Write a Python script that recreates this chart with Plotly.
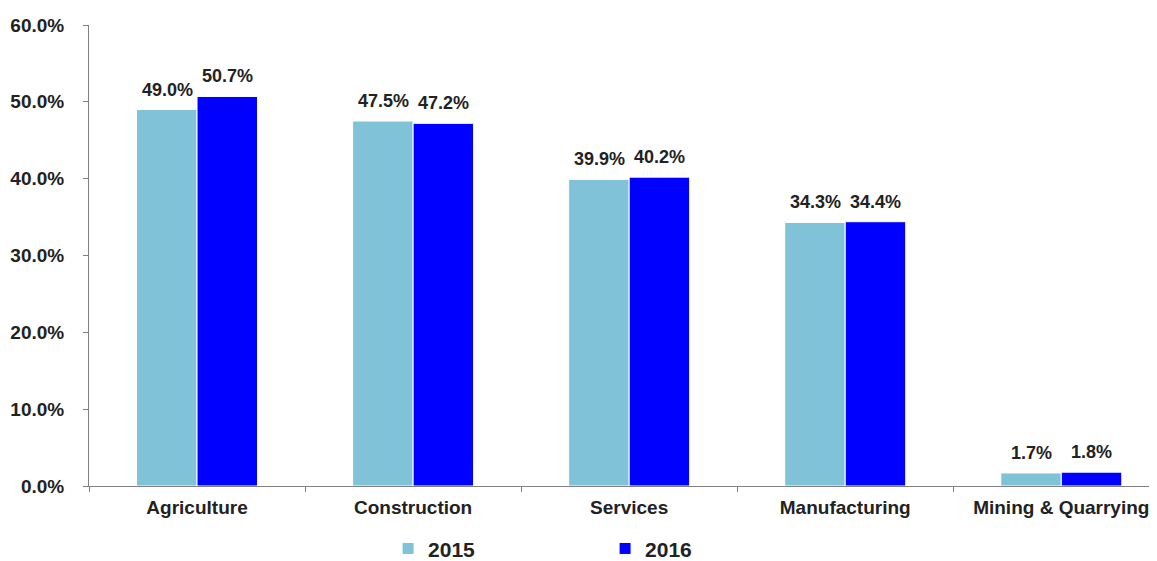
import plotly.graph_objects as go

categories = ["Agriculture", "Construction", "Services", "Manufacturing", "Mining & Quarrying"]
values_2015 = [49.0, 47.5, 39.9, 34.3, 1.7]
values_2016 = [50.7, 47.2, 40.2, 34.4, 1.8]
series_names = ["2015", "2016"]
y_ticks = [0, 10, 20, 30, 40, 50, 60]

FONT = "Liberation Sans, Arial, sans-serif"
TXT = "#222222"

fig = go.Figure()
series = [(series_names[0], values_2015, "#80C2D8", -30),
          (series_names[1], values_2016, "#0000FF", 30)]
for name, vals, color, shift in series:
    fig.add_trace(go.Bar(
        name=name, x=categories, y=vals,
        marker=dict(color=color, line=dict(color="white", width=1)),
        hoverinfo="x+y",
    ))
    for cat, v in zip(categories, vals):
        fig.add_annotation(x=cat, y=v, text=f"{v:.1f}%", showarrow=False,
                           xshift=shift, yshift=8, yanchor="bottom",
                           font=dict(family=FONT, size=18, color=TXT, weight="bold"))

fig.update_layout(
    width=1157, height=561,
    barmode="group", bargap=0.44, bargroupgap=0,
    plot_bgcolor="white", paper_bgcolor="white",
    margin=dict(l=81, r=0, t=17, b=83, autoexpand=False),
    font=dict(family=FONT, size=16, color=TXT),
    showlegend=True,
    legend=dict(orientation="h", xref="container", yref="container",
                x=0.3285, y=0.036, xanchor="left", yanchor="middle",
                entrywidth=172, entrywidthmode="pixels",
                font=dict(family=FONT, size=21, weight="bold", color=TXT),
                traceorder="normal"),
    xaxis=dict(range=[-0.5, 4.48], showline=True, linecolor="#808080", linewidth=1,
               ticks="outside", tickson="boundaries", ticklen=5, tickcolor="#808080",
               tickfont=dict(family=FONT, size=19, weight="bold", color=TXT),
               ticklabelstandoff=4,
               showgrid=False, automargin=False),
    yaxis=dict(range=[0, 60], tickvals=y_ticks, ticktext=[f"{t:.1f}%" for t in y_ticks],
               showline=True, linecolor="#808080", linewidth=1,
               ticks="outside", ticklen=5, tickcolor="#808080",
               tickfont=dict(family=FONT, size=19, weight="bold", color=TXT),
               ticklabelstandoff=15,
               showgrid=False, zeroline=False, automargin=False),
)

fig.write_html("out.html")
